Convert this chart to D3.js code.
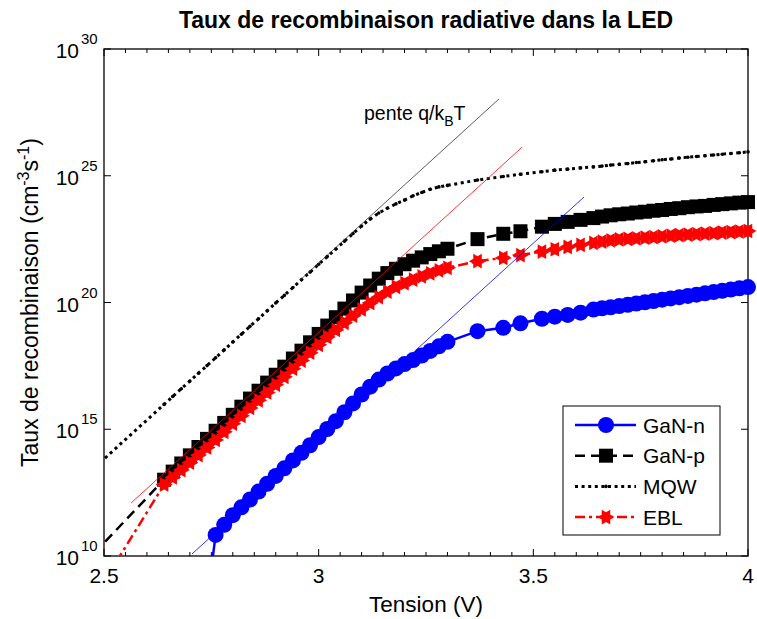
<!DOCTYPE html>
<html><head><meta charset="utf-8">
<script src="https://cdn.jsdelivr.net/npm/d3@7"></script>
<style>
body{margin:0;background:#fff}
svg{display:block}
text{font-family:"Liberation Sans",Arial,Helvetica,sans-serif;fill:#000}
</style>
</head><body>
<svg id="chart" width="757" height="619"></svg>
<script>
// ---------- DATA ----------
const tension = [2.40, 2.64, 2.66, 2.68, 2.70, 2.72, 2.74, 2.76, 2.78, 2.80, 2.82, 2.84, 2.86, 2.88, 2.90, 2.92,
  2.94, 2.96, 2.98, 3.00, 3.02, 3.04, 3.06, 3.08, 3.10, 3.12, 3.14, 3.16, 3.18, 3.20, 3.22, 3.24, 3.26, 3.28, 3.30,
  3.37, 3.43, 3.47, 3.52, 3.55, 3.58, 3.61,
  3.64, 3.66, 3.68, 3.70, 3.72, 3.74, 3.76, 3.78, 3.80, 3.82, 3.84, 3.86, 3.88, 3.90, 3.92, 3.94, 3.96, 3.98, 4.00];

// log10 of the radiative recombination rate (cm^-3 s^-1)
const ganN = [null, null, null, null, null, null, 8.2, 10.83, 11.23, 11.61, 11.92, 12.23, 12.54, 12.85, 13.16, 13.46,
  13.77, 14.07, 14.37, 14.69, 15.01, 15.32, 15.67, 16.02, 16.37, 16.68, 16.96, 17.20, 17.40, 17.57, 17.73, 17.91, 18.09, 18.27, 18.45,
  18.87, 19.00, 19.18, 19.36, 19.44, 19.51, 19.60,
  19.72, 19.77, 19.81, 19.86, 19.91, 19.96, 20.01, 20.06, 20.11, 20.16, 20.21, 20.26, 20.31, 20.36, 20.41, 20.46, 20.51, 20.56, 20.61];

const ganP = [8.74, 13.01, 13.33, 13.65, 13.97, 14.30, 14.62, 14.94, 15.25, 15.57, 15.89, 16.21, 16.52, 16.84, 17.15, 17.47,
  17.79, 18.10, 18.43, 18.76, 19.09, 19.42, 19.76, 20.08, 20.39, 20.67, 20.94, 21.16, 21.33, 21.51, 21.65, 21.78, 21.91, 22.02, 22.12,
  22.50, 22.71, 22.81, 22.99, 23.10, 23.18, 23.26,
  23.33, 23.39, 23.44, 23.48, 23.51, 23.55, 23.58, 23.62, 23.65, 23.69, 23.72, 23.76, 23.79, 23.81, 23.85, 23.88, 23.91, 23.94, 23.96];

const mqw = [12.29, 15.98, 16.29, 16.60, 16.90, 17.21, 17.51, 17.82, 18.13, 18.44, 18.75, 19.06, 19.36, 19.67, 19.98, 20.28,
  20.59, 20.90, 21.20, 21.51, 21.81, 22.11, 22.42, 22.72, 23.02, 23.29, 23.53, 23.72, 23.89, 24.04, 24.21, 24.34, 24.47, 24.56, 24.62,
  24.83, 24.97, 25.06, 25.16, 25.22, 25.26, 25.31,
  25.35, 25.38, 25.42, 25.45, 25.48, 25.52, 25.55, 25.59, 25.63, 25.66, 25.70, 25.73, 25.76, 25.79, 25.82, 25.85, 25.88, 25.91, 25.94];

const ebl = [6.25, 12.82, 13.10, 13.39, 13.68, 13.98, 14.28, 14.58, 14.90, 15.22, 15.53, 15.84, 16.14, 16.45, 16.76, 17.07,
  17.39, 17.71, 18.02, 18.33, 18.64, 18.92, 19.20, 19.48, 19.73, 19.98, 20.21, 20.43, 20.62, 20.76, 20.90, 21.03, 21.15, 21.27, 21.37,
  21.63, 21.76, 21.87, 22.01, 22.10, 22.19, 22.27,
  22.35, 22.40, 22.45, 22.49, 22.51, 22.53, 22.56, 22.58, 22.61, 22.64, 22.66, 22.68, 22.70, 22.72, 22.74, 22.76, 22.78, 22.80, 22.82];

// slope q/kBT guide lines: [tension, log10 rate] end points
const slopeBlack = [[2.957, 20.89], [3.420, 28.03]];
const slopeRed   = [[2.563, 12.09], [3.474, 26.13]];
const slopeBlue  = [[2.705, 10.08], [3.618, 24.16]];

const seriesNames = ["GaN-n", "GaN-p", "MQW", "EBL"];
const xTickLabels = [2.5, 3, 3.5, 4];
const yTickExponents = [10, 15, 20, 25, 30];

// ---------- CHART ----------
const svg = d3.select("#chart");
const L = 104, R = 748, T = 49, B = 556;
const x = d3.scaleLinear().domain([2.5, 4]).range([L, R]);
const y = d3.scaleLog().domain([1e10, 1e30]).range([B, T]);

svg.append("defs").append("clipPath").attr("id", "clip")
  .append("rect").attr("x", L).attr("y", T).attr("width", R - L).attr("height", B - T);

// axes box
svg.append("rect").attr("x", L).attr("y", T).attr("width", R - L).attr("height", B - T)
  .attr("fill", "none").attr("stroke", "#000").attr("stroke-width", 1.3);

// x ticks (inward, top & bottom)
const minor = d3.range(0, 31).map(i => 2.5 + i * 0.05);
const tg = svg.append("g").attr("stroke", "#000").attr("stroke-width", 1);
minor.forEach(v => {
  const isMajor = xTickLabels.some(t => Math.abs(t - v) < 1e-6);
  const len = isMajor ? 7 : 4;
  tg.append("line").attr("x1", x(v)).attr("x2", x(v)).attr("y1", B).attr("y2", B - len);
  tg.append("line").attr("x1", x(v)).attr("x2", x(v)).attr("y1", T).attr("y2", T + len);
});
yTickExponents.forEach(e => {
  const yy = y(Math.pow(10, e));
  tg.append("line").attr("x1", L).attr("x2", L + 7).attr("y1", yy).attr("y2", yy);
  tg.append("line").attr("x1", R).attr("x2", R - 7).attr("y1", yy).attr("y2", yy);
});

// tick labels
xTickLabels.forEach(v => {
  svg.append("text").attr("x", x(v)).attr("y", 583).attr("text-anchor", "middle")
    .attr("font-size", 21).text(String(v));
});
yTickExponents.forEach(e => {
  const yy = y(Math.pow(10, e));
  svg.append("text").attr("x", 79).attr("y", yy + 9).attr("text-anchor", "end")
    .attr("font-size", 21).text("10");
  svg.append("text").attr("x", 81).attr("y", yy - 5).attr("text-anchor", "start")
    .attr("font-size", 15).text(String(e));
});

// title & axis labels
svg.append("text").attr("x", (L + R) / 2).attr("y", 28).attr("text-anchor", "middle")
  .attr("font-size", 23).attr("font-weight", "bold")
  .text("Taux de recombinaison radiative dans la LED");
svg.append("text").attr("x", (L + R) / 2).attr("y", 612).attr("text-anchor", "middle")
  .attr("font-size", 22.5).text("Tension (V)");
const yl = svg.append("text").attr("transform", `translate(38,${(T + B) / 2}) rotate(-90)`)
  .attr("text-anchor", "middle").attr("font-size", 23);
yl.append("tspan").text("Taux de recombinaison (cm");
yl.append("tspan").attr("dy", -9).attr("font-size", 16).text("-3");
yl.append("tspan").attr("dy", 9).text("s");
yl.append("tspan").attr("dy", -9).attr("font-size", 16).text("-1");
yl.append("tspan").attr("dy", 9).text(")");

// marker shapes
function hexagram(r) {
  const pts = [];
  for (let i = 0; i < 12; i++) {
    const a = i * Math.PI / 6;
    const rr = i % 2 === 0 ? r : r / Math.sqrt(3);
    pts.push([rr * Math.cos(a), rr * Math.sin(a)]);
  }
  return "M" + pts.map(p => p[0].toFixed(2) + "," + p[1].toFixed(2)).join("L") + "Z";
}
const styles = {
  "GaN-n": {vals: ganN, color: "#0000ff", dash: null, marker: "circle"},
  "GaN-p": {vals: ganP, color: "#000000", dash: "10,6", marker: "square"},
  "MQW":   {vals: mqw,  color: "#000000", dash: "3,3.6", marker: "dot"},
  "EBL":   {vals: ebl,  color: "#ff0000", dash: "10,4,3,4", marker: "hexagram"}
};
function drawMarker(g, type, cx, cy, color) {
  if (type === "circle") g.append("circle").attr("cx", cx).attr("cy", cy).attr("r", 8).attr("fill", color);
  else if (type === "square") g.append("rect").attr("x", cx - 7).attr("y", cy - 7).attr("width", 14).attr("height", 14).attr("fill", color);
  else if (type === "dot") g.append("circle").attr("cx", cx).attr("cy", cy).attr("r", 1.8).attr("fill", color);
  else g.append("path").attr("d", hexagram(8.5)).attr("transform", `translate(${cx},${cy})`).attr("fill", color);
}

const plot = svg.append("g");
seriesNames.forEach(name => {
  const s = styles[name];
  const pts = tension.map((v, i) => [v, s.vals[i]]);
  const line = d3.line().defined(d => d[1] != null)
    .x(d => x(d[0])).y(d => y(Math.pow(10, d[1])));
  plot.append("path").attr("d", line(pts)).attr("clip-path", "url(#clip)")
    .attr("fill", "none").attr("stroke", s.color).attr("stroke-width", name === "MQW" ? 3 : 2.5)
    .attr("stroke-dasharray", s.dash);
  const mg = plot.append("g");
  pts.filter(d => d[1] != null && d[0] >= 2.5 && d[0] <= 4 && d[1] >= 10 && d[1] <= 30)
    .forEach(d => drawMarker(mg, s.marker, x(d[0]), y(Math.pow(10, d[1])), s.color));
});

// slope guide lines
const gl = d3.line().x(d => x(d[0])).y(d => y(Math.pow(10, d[1])));
[[slopeBlack, "#333"], [slopeRed, "#ff0000"], [slopeBlue, "#0000ff"]].forEach(([d, c]) => {
  plot.append("path").attr("d", gl(d)).attr("fill", "none").attr("stroke", c).attr("stroke-width", 0.8);
});

// annotation
const an = svg.append("text").attr("x", 364).attr("y", 120).attr("font-size", 19.5);
an.append("tspan").text("pente q/k");
an.append("tspan").attr("dy", 6).attr("font-size", 14).text("B");
an.append("tspan").attr("dy", -6).text("T");

// legend
const lg = svg.append("g");
lg.append("rect").attr("x", 563).attr("y", 406).attr("width", 157).attr("height", 129)
  .attr("fill", "#fff").attr("stroke", "#000").attr("stroke-width", 1);
seriesNames.forEach((name, i) => {
  const s = styles[name];
  const yy = 425 + i * 30.7;
  lg.append("line").attr("x1", 575).attr("x2", 636).attr("y1", yy).attr("y2", yy)
    .attr("stroke", s.color).attr("stroke-width", name === "MQW" ? 3 : 2.5).attr("stroke-dasharray", s.dash);
  drawMarker(lg, s.marker, 606, yy, s.color);
  lg.append("text").attr("x", 643).attr("y", yy + 7.5).attr("font-size", 21).text(name);
});
</script>
</body></html>
